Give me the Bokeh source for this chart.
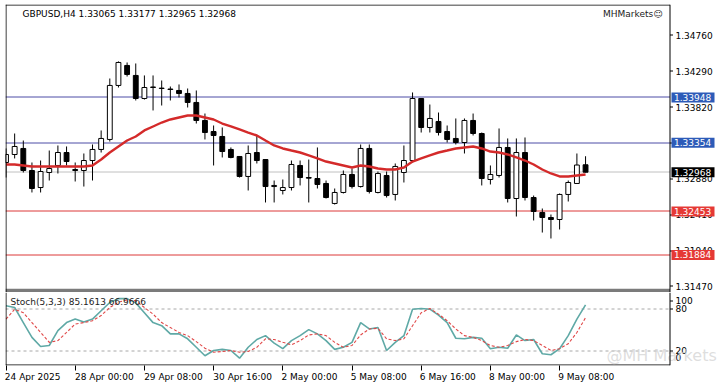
import math
from bokeh.plotting import figure
from bokeh.models import Range1d, LinearAxis, FixedTicker, Span, ColumnDataSource
from bokeh.core.properties import value
from bokeh.layouts import column
from bokeh.embed import file_html
from bokeh.resources import INLINE

# ---------------- data ----------------
header_text = "GBPUSD,H4  1.33065 1.33177 1.32965 1.32968"
stoch_text = "Stoch(5,3,3) 85.1613 66.9666"
brand_text = "MHMarkets\u263a"
watermark_text = "@MH Markets"

opens = [1.33095, 1.33200, 1.33279, 1.32990, 1.32767, 1.32964, 1.33056, 1.33226, 1.33003, 1.32990,
         1.33121, 1.33266, 1.33397, 1.34105, 1.34367, 1.34236, 1.33934, 1.34078, 1.34065, 1.34058,
         1.34039, 1.34000, 1.33882, 1.33646, 1.33501, 1.33436, 1.33266, 1.33174, 1.32912, 1.33226,
         1.33134, 1.32780, 1.32728, 1.32767, 1.33056, 1.32898, 1.32885, 1.32820, 1.32558, 1.32702,
         1.32938, 1.32780, 1.33279, 1.32702, 1.32925, 1.32676, 1.32964, 1.33121, 1.33934, 1.33554,
         1.33633, 1.33501, 1.33410, 1.33357, 1.33646, 1.33475, 1.32872, 1.32925, 1.33292, 1.32623,
         1.33226, 1.32636, 1.32440, 1.32374, 1.32348, 1.32676, 1.32820, 1.33065]
highs = [1.33279, 1.33475, 1.33383, 1.33095, 1.33121, 1.33252, 1.33318, 1.33305, 1.33095, 1.33213,
         1.33331, 1.33515, 1.34196, 1.34420, 1.34406, 1.34393, 1.34236, 1.34236, 1.34170, 1.34091,
         1.34118, 1.34065, 1.34039, 1.33737, 1.33580, 1.33554, 1.33292, 1.33180, 1.33318, 1.33449,
         1.33140, 1.32859, 1.32872, 1.33121, 1.33121, 1.33134, 1.33292, 1.32859, 1.32754, 1.32990,
         1.33016, 1.33331, 1.33331, 1.32977, 1.32977, 1.33082, 1.33318, 1.34013, 1.33940, 1.33855,
         1.33750, 1.33580, 1.33672, 1.33672, 1.33737, 1.33488, 1.33056, 1.33541, 1.33410, 1.33410,
         1.33423, 1.32662, 1.32492, 1.32413, 1.32689, 1.32859, 1.33213, 1.33177]
lows = [1.32898, 1.33148, 1.32964, 1.32702, 1.32702, 1.32859, 1.32951, 1.33056, 1.32846, 1.32780,
        1.32859, 1.33226, 1.33370, 1.34078, 1.34222, 1.33908, 1.33920, 1.33777, 1.33842, 1.33908,
        1.33947, 1.33816, 1.33606, 1.33397, 1.33056, 1.33161, 1.33150, 1.32898, 1.32728, 1.33082,
        1.32571, 1.32571, 1.32676, 1.32728, 1.32794, 1.32571, 1.32754, 1.32623, 1.32544, 1.32689,
        1.32754, 1.32767, 1.32689, 1.32690, 1.32636, 1.32597, 1.32833, 1.33095, 1.33488, 1.33488,
        1.33449, 1.33357, 1.33331, 1.33213, 1.33449, 1.32794, 1.32807, 1.32898, 1.32571, 1.32387,
        1.32597, 1.32335, 1.32177, 1.32099, 1.32217, 1.32584, 1.32820, 1.32965]
closes = [1.33200, 1.33305, 1.32990, 1.32754, 1.32977, 1.33016, 1.33226, 1.33108, 1.32990, 1.33121,
          1.33266, 1.33410, 1.34105, 1.34406, 1.34249, 1.33934, 1.34078, 1.34085, 1.34070, 1.34052,
          1.34000, 1.33882, 1.33646, 1.33488, 1.33449, 1.33239, 1.33161, 1.32912, 1.33213, 1.33121,
          1.32780, 1.32794, 1.32767, 1.33069, 1.32898, 1.32890, 1.32807, 1.32636, 1.32702, 1.32938,
          1.32780, 1.33279, 1.32715, 1.32951, 1.32662, 1.33043, 1.33121, 1.33934, 1.33554, 1.33672,
          1.33488, 1.33397, 1.33357, 1.33646, 1.33475, 1.32885, 1.32938, 1.33292, 1.32623, 1.33226,
          1.32636, 1.32453, 1.32374, 1.32348, 1.32676, 1.32833, 1.33062, 1.32968]
ma_values = [1.33069, 1.33069, 1.33056, 1.33043, 1.33043, 1.33043, 1.33043, 1.33043, 1.33043, 1.33043,
             1.33056, 1.33134, 1.33226, 1.33305, 1.33383, 1.33436, 1.33515, 1.33567, 1.33619, 1.33659,
             1.33685, 1.33711, 1.33711, 1.33685, 1.33659, 1.33606, 1.33567, 1.33528, 1.33488, 1.33449,
             1.33383, 1.33318, 1.33279, 1.33252, 1.33226, 1.33187, 1.33148, 1.33108, 1.33082, 1.33056,
             1.33030, 1.33056, 1.33043, 1.33016, 1.33003, 1.33003, 1.33030, 1.33108, 1.33148, 1.33187,
             1.33226, 1.33252, 1.33279, 1.33292, 1.33305, 1.33279, 1.33239, 1.33226, 1.33200, 1.33161,
             1.33121, 1.33069, 1.33003, 1.32951, 1.32912, 1.32912, 1.32925, 1.32938]
stoch_k = [83.8, 81.4, 60, 39, 26, 27.5, 48.6, 60, 65, 61,
           65, 76.8, 88.5, 94, 94, 88, 74, 60, 55.6, 44,
           44, 37, 25, 13, 20.4, 22, 20.4, 9.6, 25, 36,
           41.5, 31, 23, 34.5, 41.5, 50, 44, 34.5, 22, 25,
           32, 60, 51, 53, 20.4, 32, 41.5, 79, 80, 79,
           70.7, 60, 37.8, 37, 39, 37.8, 23, 25, 23.7, 42.5,
           34.5, 36, 15.8, 14.4, 23, 41.5, 65, 85.16]
stoch_d = [65, 79, 74, 60, 46, 32, 34.5, 46, 58, 60,
           62.7, 70, 81.4, 89, 92, 91, 81.4, 72, 60, 53,
           46, 41.5, 33, 23.7, 18, 19, 20.4, 18, 19, 25,
           37, 36, 32, 28.5, 34.5, 42.5, 44, 41.5, 32, 25,
           27.5, 42.5, 51, 52, 37, 34.5, 37, 55.6, 74, 80,
           72, 62.7, 51, 41.5, 39, 34.5, 27.5, 25, 27.5, 33,
           36, 34.5, 27.5, 20.4, 23, 30, 46, 66.97]
date_labels = ["24 Apr 2025", "28 Apr 00:00", "29 Apr 08:00", "30 Apr 16:00", "2 May 00:00",
               "5 May 08:00", "6 May 16:00", "8 May 00:00", "9 May 08:00"]
date_bars = [0, 8, 16, 24, 32, 40, 48, 56, 64]
price_ticks = [1.3476, 1.3429, 1.3382, 1.3335, 1.3288, 1.3241, 1.3194, 1.3147]
blue_levels = [1.33948, 1.33354]
red_levels = [1.32453, 1.31884]
bid_price = 1.32968
stoch_levels = [80, 20]
stoch_scale_values = [91.35, 80, 20, 10.5]
stoch_scale_labels = ["100", "80", "20", "0"]
stoch_tick_values = [91.35, 80, 20]

# ---------------- layout / style ----------------
FONT = "DejaVu Sans"
FS = "9px"
BLUE_LINE = "#4c4ca6"
BLUE_BOX = "#2d5bb8"
RED_LINE = "#dc3838"
RED_BOX = "#e53935"
BID_LINE = "#c0c0c0"

PX_PER_BAR = 8.65
X_START = -0.058
LEFT_PX = 5           # frame left in page pixels
FRAME_W = 716


def bar_at(px):
    """bar-axis value of a page x pixel (layout helper)"""
    return (px - LEFT_PX) / PX_PER_BAR + X_START


X_END = bar_at(LEFT_PX + FRAME_W)
X_BORDER = bar_at(669.5)          # right border of the chart area
X_TICK_END = bar_at(672.5)
X_SCALE_TEXT = bar_at(675)
X_BOX_CENTER = bar_at(692.5)
X_BOX_TEXT = bar_at(673.5)

n = len(opens)
xs = list(range(n))
xr = Range1d(X_START, X_END)


def base_fig(fh, yr):
    f = figure(frame_width=FRAME_W, frame_height=fh, x_range=xr, y_range=yr,
               output_backend="svg", toolbar_location=None, x_axis_location=None,
               y_axis_location=None, min_border_left=LEFT_PX, min_border_top=0,
               min_border_bottom=0, min_border_right=0, outline_line_color=None,
               background_fill_color="white", border_fill_color="white")
    f.grid.visible = False
    # left and right borders of the chart area
    f.add_layout(Span(location=0.0, dimension="height", line_color="black", line_width=1))
    f.add_layout(Span(location=X_BORDER, dimension="height", line_color="black", line_width=1))
    return f


def txt(f, x, y, s, color="black", size=FS, align="left", alpha=1.0):
    f.text(x=x, y=y, text=s, text_font=value(FONT), text_font_size=size,
           text_color=color, text_alpha=alpha, text_baseline="middle", text_align=align)


def snapper(top, per_px):
    """move a horizontal hairline onto the nearest pixel centre (rendering only)"""
    return lambda v: top - (math.floor((top - v) / per_px) + 0.5) * per_px


# ---------------- main price panel ----------------
PY0, PY1 = 1.31391, 1.35166
pm = base_fig(288, Range1d(PY0, PY1))
pm.min_border_top = 4
PPX = (PY1 - PY0) / 288          # price per pixel
snap_p = snapper(PY1, PPX)

# top border and panel separator
pm.segment(x0=[X_START], x1=[X_BORDER], y0=[PY1 - 0.5 * PPX], y1=[PY1 - 0.5 * PPX],
           line_color="black", line_width=1)
pm.quad(left=[X_START], right=[X_BORDER], bottom=[PY0], top=[PY0 + 3.7 * PPX],
        fill_color="#7b7b7b", line_color=None)

# level lines
lvl_y = [snap_p(v) for v in blue_levels + red_levels + [bid_price]]
lvl_c = [BLUE_LINE] * len(blue_levels) + [RED_LINE] * len(red_levels) + [BID_LINE]
pm.segment(x0=[X_START] * len(lvl_y), x1=[X_BORDER] * len(lvl_y), y0=lvl_y, y1=lvl_y,
           line_color=lvl_c, line_width=1)

# candles
src = ColumnDataSource(dict(
    x=xs, high=highs, low=lows,
    top=[max(o, c) for o, c in zip(opens, closes)],
    bottom=[min(o, c) for o, c in zip(opens, closes)],
    fill=["white" if c >= o else "black" for o, c in zip(opens, closes)],
))
pm.segment(x0="x", y0="high", x1="x", y1="low", source=src, line_color="black", line_width=1)
pm.vbar(x="x", width=0.56, top="top", bottom="bottom", source=src,
        fill_color="fill", line_color="black", line_width=1)
pm.line(xs, ma_values, line_color="#d42a2a", line_width=2.4)

txt(pm, [1.91], [PY1 - 9 * PPX], [header_text])
txt(pm, [75.9], [PY1 - 9 * PPX], [brand_text], color="#222222", align="right")

# price scale on the right
tick_y = [snap_p(t) for t in price_ticks]
pm.segment(x0=[X_BORDER] * len(price_ticks), x1=[X_TICK_END] * len(price_ticks),
           y0=tick_y, y1=tick_y, line_color="black", line_width=1)
txt(pm, [X_SCALE_TEXT] * len(price_ticks), price_ticks, ["%.5f" % t for t in price_ticks])

# marker boxes on the price scale
box_y = blue_levels + [bid_price] + red_levels
box_c = [BLUE_BOX] * len(blue_levels) + ["black"] + [RED_BOX] * len(red_levels)
pm.rect(x=[X_BOX_CENTER] * len(box_y), y=box_y, width=43, height=10,
        width_units="screen", height_units="screen", fill_color=box_c, line_color=None)
txt(pm, [X_BOX_TEXT] * len(box_y), box_y, ["%.5f" % v for v in box_y], color="white")

# ---------------- stochastic panel ----------------
SY0, SY1 = -0.85, 102.7
ps = base_fig(73, Range1d(SY0, SY1))
SPX = (SY1 - SY0) / 73
snap_s = snapper(SY1, SPX)

ps.segment(x0=[X_START], x1=[X_BORDER], y0=[SY0 + 0.5 * SPX], y1=[SY0 + 0.5 * SPX],
           line_color="black", line_width=1)
lv_s = [snap_s(v) for v in stoch_levels]
ps.segment(x0=[X_START] * len(lv_s), x1=[X_BORDER] * len(lv_s),
           y0=lv_s, y1=lv_s, line_color="#a8a8a8", line_width=1, line_dash="3 3")
ps.line(xs, stoch_k, line_color="#5fa9a6", line_width=1.6)
ps.line(xs, stoch_d, line_color="#e04848", line_width=1.1, line_dash="3 2")

txt(ps, [0.52], [SY1 - 9 * SPX], [stoch_text], color="#222222")

st_y = [snap_s(v) for v in stoch_tick_values]
ps.segment(x0=[X_BORDER] * len(st_y), x1=[X_TICK_END] * len(st_y),
           y0=st_y, y1=st_y, line_color="black", line_width=1)
txt(ps, [X_SCALE_TEXT] * len(stoch_scale_values), stoch_scale_values, stoch_scale_labels)

txt(ps, [bar_at(606)], [13.3], [watermark_text], color="#cfcfcf", size="16px", alpha=0.7)

tick_axis = LinearAxis(ticker=FixedTicker(ticks=date_bars, minor_ticks=[]),
                       major_tick_out=5, major_tick_in=0, major_label_standoff=0,
                       major_label_text_font_size="1px", major_label_text_alpha=0,
                       axis_line_color=None, major_tick_line_color="black")
label_pos = [b + 0.28 * len(s) for b, s in zip(date_bars, date_labels)]
label_axis = LinearAxis(ticker=FixedTicker(ticks=label_pos, minor_ticks=[]),
                        major_label_overrides={t: s for t, s in zip(label_pos, date_labels)},
                        major_tick_out=0, major_tick_in=0, major_label_standoff=1,
                        major_tick_line_color=None, axis_line_color=None,
                        major_label_text_font=FONT, major_label_text_font_size=FS,
                        major_label_text_color="black")
ps.add_layout(tick_axis, "below")
ps.add_layout(label_axis, "below")

layout = column(pm, ps, spacing=0)

open("out.html", "w").write(file_html(layout, INLINE))
